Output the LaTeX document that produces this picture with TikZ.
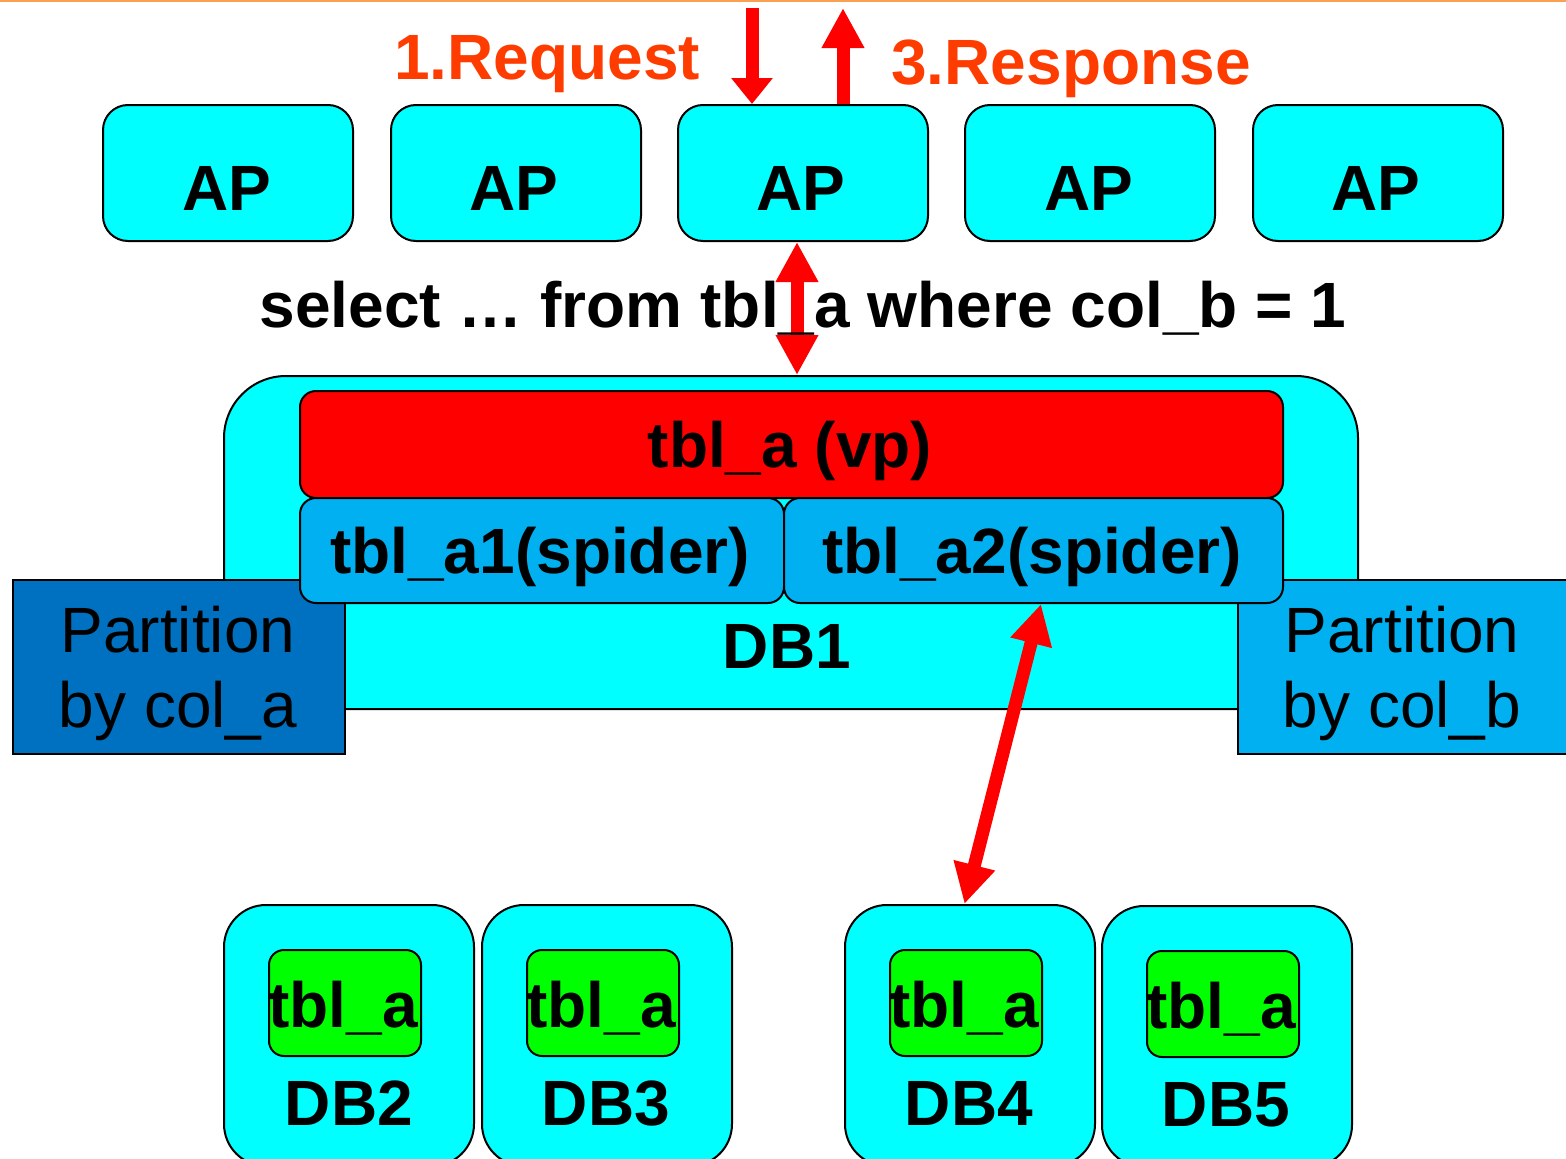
\documentclass[tikz,border=0pt]{standalone}
\usepackage{fontspec}
\setmainfont{Liberation Sans}
\usetikzlibrary{arrows.meta}
\definecolor{cyanbox}{RGB}{0,255,255}
\definecolor{redbox}{RGB}{255,0,0}
\definecolor{lightblue}{RGB}{0,176,240}
\definecolor{darkblue}{RGB}{0,112,192}
\definecolor{greenbox}{RGB}{0,255,0}
\definecolor{orangetxt}{RGB}{255,60,0}
\definecolor{topline}{RGB}{250,160,80}
\begin{document}
\begin{tikzpicture}[x=1pt,y=-1pt,
  box/.style={draw=black, line width=2pt, inner sep=0pt, anchor=north west, rectangle},
  apbox/.style={box, fill=cyanbox, rounded corners=25pt, minimum width=250pt, minimum height=136pt},
  dbbox/.style={box, fill=cyanbox, rounded corners=42pt, minimum width=250pt, minimum height=261pt},
  gbox/.style={box, fill=greenbox, rounded corners=15pt, minimum width=152pt, minimum height=106pt},
  bt/.style={font=\fontsize{64}{75}\selectfont\bfseries, inner sep=0pt, anchor=base},
  nt/.style={font=\fontsize{64}{75}\selectfont, inner sep=0pt, anchor=base},
  rarrow/.style={draw=red, line width=13pt},
  tipa/.style={-{Triangle[width=40pt,length=40pt]}},
]
\useasboundingbox (0,0) rectangle (1566,1159);
\clip (0,0) rectangle (1566,1159);
\fill[white] (0,0) rectangle (1566,1159);
\draw[topline, line width=2.5pt] (0,1) -- (1566,1);

% AP boxes
\node[apbox] (ap1) at (102,104) {};
\node[apbox] (ap2) at (390,104) {};
\node[apbox] (ap3) at (677,104) {};
\node[apbox] (ap4) at (964,104) {};
\node[apbox] (ap5) at (1252,104) {};
\node[bt] (apt1) at (227,210) {AP};
\node[bt] (apt2) at (514,210) {AP};
\node[bt] (apt3) at (801,210) {AP};
\node[bt] (apt4) at (1089,210) {AP};
\node[bt] (apt5) at (1376,210) {AP};

% request / response
\node[bt, text=orangetxt] (req) at (547,79) {1.Request};
\node[bt, text=orangetxt] (resp) at (1071,84) {3.Response};
\coordinate (reqtop) at (752,8);
\coordinate (resptop) at (843,8);
\draw[rarrow, -{Triangle[width=40pt,length=26pt]}] (reqtop) -- (reqtop |- ap3.north);
\draw[rarrow, tipa] (resptop |- ap3.north) -- (resptop);

% DB1
\node[box, fill=cyanbox, rounded corners=62pt, minimum width=1134pt, minimum height=333pt] (db1) at (223,375) {};
\node[box, fill=darkblue, minimum width=332pt, minimum height=174pt] (pa) at (12,579) {};
\node[box, fill=lightblue, minimum width=335pt, minimum height=174pt] (pb) at (1237,579) {};
\node[box, fill=redbox, rounded corners=16pt, minimum width=983pt, minimum height=107pt] (vp) at (299,390) {};
\node[box, fill=lightblue, rounded corners=16pt, minimum width=484pt, minimum height=105pt] (a1) at (299,497) {};
\node[box, fill=lightblue, rounded corners=16pt, minimum width=499pt, minimum height=105pt] (a2) at (783,497) {};
\node[bt] (vpt) at (790,467) {tbl\_a (vp)};
\node[bt] (a1t) at (540,573) {tbl\_a1(spider)};
\node[bt] (a2t) at (1032,573) {tbl\_a2(spider)};
\node[bt] (db1t) at (787,668) {DB1};
\node[nt] (pat1) at (178,652) {Partition};
\node[nt] (pat2) at (178,727) {by col\_a};
\node[nt] (pbt1) at (1402,652) {Partition};
\node[nt] (pbt2) at (1402,727) {by col\_b};

% query arrow and text
\coordinate (vcol) at (797,0);
\draw[rarrow, {Triangle[width=40pt,length=40pt]}-{Triangle[width=40pt,length=40pt]}] (ap3.south -| vcol) -- (db1.north -| vcol);
\node[bt] (sql) at (803,327) {select … from tbl\_a where col\_b = 1};

% bottom DBs
\node[dbbox] (db2) at (223,904) {};
\node[dbbox] (db3) at (481,904) {};
\node[dbbox] (db4) at (844,904) {};
\node[dbbox] (db5) at (1101,905) {};
\node[gbox] (g2) at (268,949) {};
\node[gbox] (g3) at (526,949) {};
\node[gbox] (g4) at (889,949) {};
\node[gbox] (g5) at (1146,950) {};
\node[bt] (g2t) at (343,1027) {tbl\_a};
\node[bt] (g3t) at (601,1027) {tbl\_a};
\node[bt] (g4t) at (964,1027) {tbl\_a};
\node[bt] (g5t) at (1221,1028) {tbl\_a};
\node[bt] (db2t) at (349,1125) {DB2};
\node[bt] (db3t) at (606,1125) {DB3};
\node[bt] (db4t) at (969,1125) {DB4};
\node[bt] (db5t) at (1226,1126) {DB5};

% diagonal arrow
\draw[rarrow, {Triangle[width=40pt,length=40pt]}-{Triangle[width=40pt,length=40pt]}] ([xshift=7.5pt]a2.south) -- ([xshift=-5.5pt]db4.north);
\end{tikzpicture}
\end{document}
